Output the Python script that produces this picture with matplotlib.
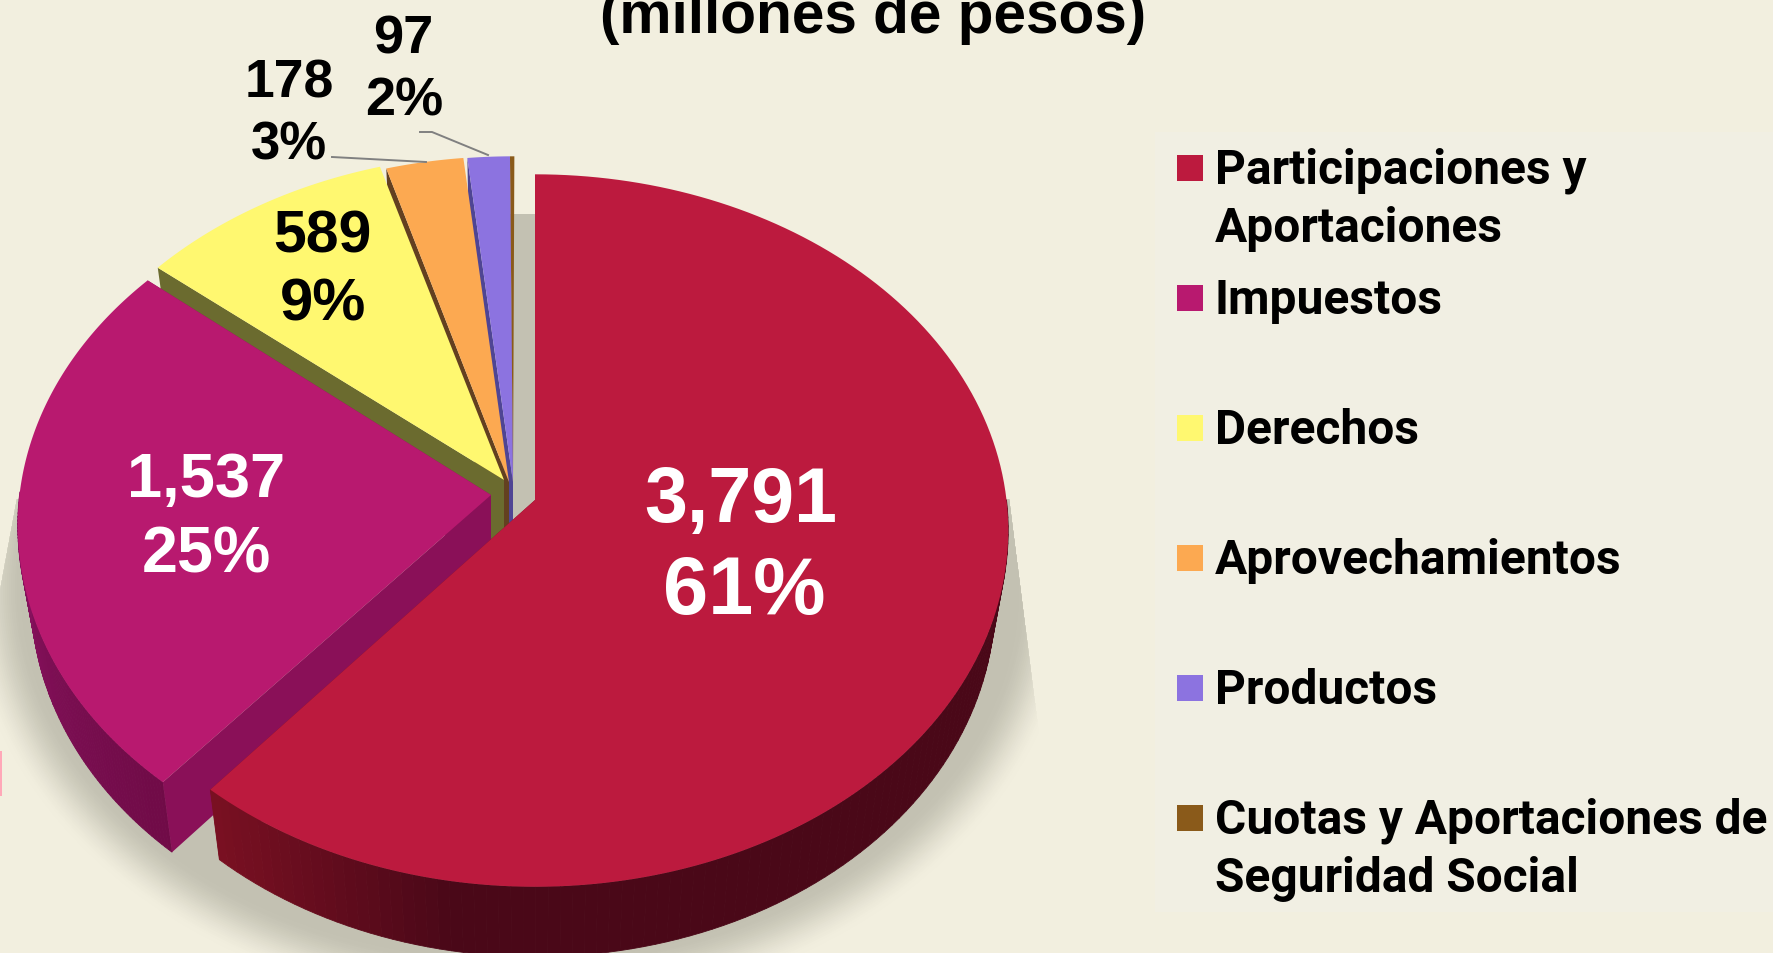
import numpy as np
import matplotlib
matplotlib.use("Agg")
import matplotlib.pyplot as plt
from matplotlib.patches import Polygon, Rectangle, Ellipse

# datos
categorias = ["Participaciones y\nAportaciones", "Impuestos", "Derechos", "Aprovechamientos",
              "Productos", "Cuotas y Aportaciones de\nSeguridad Social"]
valores = [3791, 1537, 589, 178, 97, 10]
etiquetas_valor = ["3,791", "1,537", "589", "178", "97"]
etiquetas_pct = ["61%", "25%", "9%", "3%", "2%"]
colores = ["#bc1a3e", "#b8196f", "#fff870", "#fca951", "#8c73e0", "#8a5a1a"]
colores_corte = ["#7a1022", "#8a1058", "#6b6b2f", "#634020", "#4f4594", "#5a3a10"]
titulo = "(millones de pesos)"

FONDO = "#f2efdf"
SOMBRA = "#c3c1b2"

# geometria del pastel en pixeles de la imagen
A, B, K = 471.5, 353.6, 0.0857
PROF = 70
ESC = 0.972
apex = [(535, 501), (491, 496), (504, 481), (509, 483), (513, 483), (513, 483)]
giro = [0, 0.0015, 0, 0.0005, 0.0005, 0.0005]


def borde(f):
    t = 2 * np.pi * np.asarray(f)
    d = 1 + K * np.cos(t)
    return A * np.sin(t) / d, -B * np.cos(t) / d


def mezcla(c1, c2, t):
    c1 = np.array(matplotlib.colors.to_rgb(c1))
    c2 = np.array(matplotlib.colors.to_rgb(c2))
    return tuple(c1 + (c2 - c1) * t)


fig = plt.figure(figsize=(17.73, 9.54), dpi=100, facecolor=FONDO)
ax = fig.add_axes([0, 0, 1, 1])
ax.set_xlim(0, 1773)
ax.set_ylim(954, 0)
ax.axis("off")

# sombra difusa
recorte = Polygon([(17, 500), (1009, 500), (1042, 760), (1042, 954), (-20, 954), (-20, 700)],
                  closed=True, transform=ax.transData)
n = 30
for i in range(n):
    t = i / (n - 1)
    t = t * t * (3 - 2 * t)
    e = Ellipse((520, 590), 2 * (555 - 58 * i / (n - 1)), 2 * (428 - 58 * i / (n - 1)),
                color=mezcla(FONDO, SOMBRA, t), lw=0, zorder=1)
    ax.add_patch(e)
    e.set_clip_path(recorte)
ax.add_patch(Rectangle((510, 215), 30, 300, color=SOMBRA, lw=0, zorder=1))
ax.add_patch(Rectangle((0, 752), 1.6, 45, color="#ffa8b8", lw=0, zorder=1))

# rebanadas de atras hacia adelante
fr = np.cumsum(valores) / sum(valores)
inicio = np.r_[0, fr[:-1]]
z = 2
for i in [5, 4, 3, 2, 1, 0]:
    ax0, ay0 = apex[i]
    f = np.linspace(inicio[i], fr[i], 160) + giro[i]
    dx, dy = borde(f)

    # cara de corte trasera
    cara_f = f[-1] if i < 2 else f[0]
    cx, cy = borde(cara_f)
    ax.add_patch(Polygon([(ax0 + cx, ay0 + cy), (ax0, ay0), (ax0, ay0 + PROF),
                          (ax0 + ESC * cx, ay0 + PROF + cy)],
                         closed=True, color=colores_corte[i], lw=0, zorder=z))
    z += 1

    # pared exterior en degradado
    if i < 2:
        c_izq, c_der = ("#7a1022", "#4a0818") if i == 0 else ("#8b1262", "#700b47")
        for j in range(len(f) - 1):
            if dy[j] < 0 and dy[j + 1] < 0:
                continue
            if i == 0:
                t = np.clip((dx[j] + 320) / 240, 0, 1) if dx[j] < 0 else 1
            else:
                t = np.clip(dy[j] / 290, 0, 1)
            c = mezcla(c_izq, c_der, t)
            ax.add_patch(Polygon([(ax0 + dx[j], ay0 + dy[j]), (ax0 + dx[j + 1], ay0 + dy[j + 1]),
                                  (ax0 + ESC * dx[j + 1], ay0 + PROF + dy[j + 1]),
                                  (ax0 + ESC * dx[j], ay0 + PROF + dy[j])],
                                 closed=True, facecolor=c, edgecolor=c, lw=0.6, zorder=z))
        z += 1
        if i == 1:
            # cara frontal de la rebanada de impuestos
            cx, cy = borde(f[0])
            ax.add_patch(Polygon([(ax0 + cx, ay0 + cy), (ax0, ay0), (ax0, ay0 + PROF),
                                  (ax0 + ESC * cx, ay0 + PROF + cy)],
                                 closed=True, color=colores_corte[i], lw=0, zorder=z))
            z += 1

    # cara superior
    xy = np.c_[np.r_[ax0, ax0 + dx], np.r_[ay0, ay0 + dy]]
    ax.add_patch(Polygon(xy, closed=True, color=colores[i], lw=0, zorder=z))
    z += 1

# lineas guia
ax.plot([332, 426], [158, 163], color="#808080", lw=1.4, zorder=z)
ax.plot([420, 432, 488], [133, 133, 156], color="#808080", lw=1.4, zorder=z)
z += 1

# etiquetas
FUENTE = "Liberation Sans"
pos_val = [(741, 493), (206, 474), (322, 231), (289, 78), (403, 34)]
pos_pct = [(744, 585), (206, 549), (323, 299), (289, 140), (404, 96)]
tam_val = [55.5, 45.5, 42.5, 38.5, 39]
tam_pct = [58.5, 46.5, 43, 38, 39]
col = ["white", "white", "black", "black", "black"]
for i in range(5):
    ax.text(pos_val[i][0], pos_val[i][1], etiquetas_valor[i], family=FUENTE, weight="bold",
            fontsize=tam_val[i], color=col[i], ha="center", va="center_baseline", zorder=z)
    ax.text(pos_pct[i][0], pos_pct[i][1], etiquetas_pct[i], family=FUENTE, weight="bold",
            fontsize=tam_pct[i], color=col[i], ha="center", va="center_baseline", zorder=z)

ax.text(873, 33, titulo, family=FUENTE, weight="bold", fontsize=42.2, ha="center", va="baseline",
        color="black", zorder=z)

# leyenda
ax.add_patch(Rectangle((1155, 133), 618, 780, color="#f1efe3", lw=0, zorder=1))
for i, cat in enumerate(categorias):
    yc = 169 + 130 * i
    ax.add_patch(Rectangle((1177, yc - 13), 26, 26, color=colores[i], lw=0, zorder=z))
    for j, linea in enumerate(cat.split("\n")):
        ax.text(1215, yc + 15 + 58 * j, linea, family="Roboto", weight="bold", fontsize=34.45,
                color="black", ha="left", va="baseline", zorder=z)

fig.savefig("out.png", dpi=100, facecolor=FONDO)
